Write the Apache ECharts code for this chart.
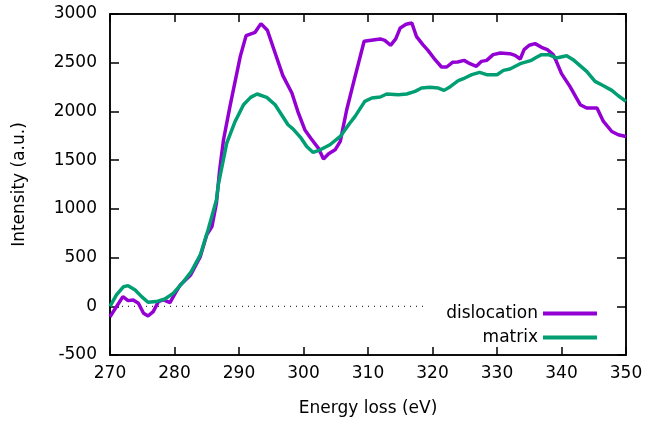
<!DOCTYPE html>
<html><head><meta charset="utf-8">
<script src="https://cdn.jsdelivr.net/npm/echarts@6/dist/echarts.min.js"></script>
<style>html,body{margin:0;padding:0;background:#fff}#c{width:646px;height:429px}</style>
</head><body><div id="c"></div>
<script>
const xTicks = [270,280,290,300,310,320,330,340,350];
const yTicks = [-500,0,500,1000,1500,2000,2500,3000];
const dislocationX = [270,272.0,272.8,273.6,274.4,275.2,275.9,276.7,277.5,278.3,279.3,280.1,280.9,282.5,284.0,285.0,285.8,286.5,287.0,287.6,288.6,290.2,291.1,292.5,293.4,294.4,295.6,296.8,298.2,299.2,300.2,301.1,302.3,303.1,303.9,304.9,305.7,306.7,308.0,309.4,311.9,312.6,313.5,314.3,315.0,315.9,316.8,317.5,318.5,319.3,320.4,321.4,322.2,323.1,323.9,324.9,325.8,326.8,327.6,328.4,329.4,330.5,332.0,332.8,333.6,334.2,335.0,335.9,336.9,337.8,338.7,339.2,340.0,341.3,342.9,343.9,345.5,346.5,347.8,348.8,350];
const dislocationY = [-107,99,58,65,31,-72,-100,-55,47,65,37,133,219,322,510,733,818,1058,1400,1709,2052,2565,2778,2812,2901,2833,2600,2367,2189,1984,1812,1727,1624,1511,1565,1606,1692,2017,2360,2720,2744,2730,2679,2744,2857,2894,2908,2771,2686,2627,2531,2456,2456,2504,2508,2524,2490,2463,2514,2524,2583,2600,2593,2576,2538,2634,2679,2696,2658,2634,2583,2514,2388,2257,2069,2035,2035,1897,1794,1760,1743];
const matrixX = [270,271.0,272.1,272.8,273.9,274.9,275.9,277.2,278.5,279.8,281.4,282.6,284.0,285.2,286.5,286.8,288.1,289.4,290.7,291.8,292.8,294.3,295.6,296.6,297.6,298.4,299.5,300.5,301.5,302.6,304.1,305.7,307.2,308.0,309.5,310.6,311.9,312.9,314.7,316.0,317.3,318.3,319.6,320.9,321.8,322.8,324.0,325.0,326.1,327.3,328.4,330.0,331.0,332.0,333.6,335.2,336.2,336.9,338.0,339.2,340.8,341.8,343.9,345.2,346.5,347.8,348.8,350];
const matrixY = [0,116,201,212,168,99,41,48,75,133,253,356,527,784,1092,1250,1675,1897,2069,2144,2179,2144,2069,1966,1863,1819,1737,1640,1579,1606,1658,1743,1881,1949,2103,2138,2148,2179,2172,2179,2206,2240,2247,2240,2216,2257,2316,2343,2377,2401,2377,2377,2421,2435,2490,2521,2559,2583,2583,2549,2572,2531,2411,2308,2264,2216,2161,2103];
const zeroLineX = [270,319];

const font = 'DejaVu Sans';
const pairs = (xs, ys) => xs.map((x,i)=>[x,ys[i]]);
const chart = echarts.init(document.getElementById('c'));
const line = () => ({show:true, onZero:false, lineStyle:{color:'#000', width:1.5}});
const tick = (len) => ({show:true, inside:true, length:len, lineStyle:{color:'#000', width:1.5}});
const fmt = v => String(v);
chart.setOption({
  animation:false,
  grid:{left:110, right:20, top:14, bottom:74, containLabel:false, outerBoundsMode:'none',
    show:true, borderColor:'#000', borderWidth:1.5, backgroundColor:'transparent'},
  legend:{
    orient:'vertical', right:44, top:300, align:'right', itemGap:7,
    icon:'rect', itemWidth:54, itemHeight:4,
    textStyle:{fontFamily:font, fontSize:17, color:'#000'},
    data:['dislocation','matrix']
  },
  xAxis:[
    {type:'value', min:270, max:350, interval:10, position:'bottom', axisLine:line(), axisTick:tick(8),
      splitLine:{show:false},
      name:'Energy loss (eV)', nameLocation:'middle', nameGap:45,
      nameTextStyle:{fontFamily:font, fontSize:17, color:'#000'},
      axisLabel:{fontFamily:font, fontSize:17, color:'#000', margin:10, formatter:fmt}},
    {type:'value', min:270, max:350, interval:10, position:'top', axisLine:line(), axisTick:tick(8),
      splitLine:{show:false}, axisLabel:{show:false}}
  ],
  yAxis:[
    {type:'value', min:-500, max:3000, interval:500, position:'left', axisLine:line(), axisTick:tick(9),
      splitLine:{show:false},
      name:'Intensity (a.u.)', nameLocation:'middle', nameGap:82,
      nameTextStyle:{fontFamily:font, fontSize:17, color:'#000'},
      axisLabel:{fontFamily:font, fontSize:17, color:'#000', margin:13, formatter:fmt}},
    {type:'value', min:-500, max:3000, interval:500, position:'right', axisLine:line(), axisTick:tick(9),
      splitLine:{show:false}, axisLabel:{show:false}}
  ],
  series:[
    {type:'line', name:'zero', data:pairs(zeroLineX,[0,0]), symbol:'none', silent:true,
      lineStyle:{color:'#000', width:1, type:[1,5]}},
    {type:'line', name:'dislocation', data:pairs(dislocationX, dislocationY), symbol:'none',
      color:'#9400D3', lineStyle:{color:'#9400D3', width:3.5}},
    {type:'line', name:'matrix', data:pairs(matrixX, matrixY), symbol:'none',
      color:'#009E73', lineStyle:{color:'#009E73', width:3.5}}
  ]
});
</script></body></html>
